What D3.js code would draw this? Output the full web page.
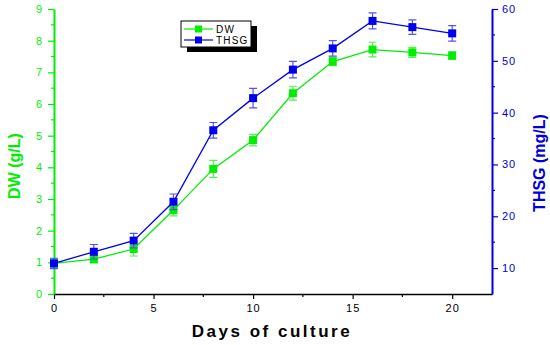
<!DOCTYPE html>
<html>
<head>
<meta charset="UTF-8">
<style>
  body { margin: 0; background: #fff; }
  text { font-family: "Liberation Sans", Arial, sans-serif; }
</style>
</head>
<body>
<script src="https://d3js.org/d3.v7.min.js"></script>
<script>
const days = [0, 2, 4, 6, 8, 10, 12, 14, 16, 18, 20];
const dw = [0.97, 1.1, 1.42, 2.65, 3.95, 4.86, 6.34, 7.34, 7.72, 7.63, 7.53];
const dwErr = [0.15, 0.12, 0.22, 0.18, 0.27, 0.18, 0.22, 0.13, 0.23, 0.16, 0.12];
const thsg = [10.9, 13.15, 15.3, 22.8, 36.6, 42.8, 48.3, 52.4, 57.7, 56.5, 55.3];
const thsgErr = [1.0, 1.4, 1.4, 1.5, 1.5, 1.9, 1.6, 1.5, 1.55, 1.4, 1.5];
const xTicks = [0, 5, 10, 15, 20];
const dwTicks = [0, 1, 2, 3, 4, 5, 6, 7, 8, 9];
const thsgTicks = [10, 20, 30, 40, 50, 60];

const W = 550, H = 345;
const m = { left: 54, right: 58, top: 9, bottom: 51 };
const green = "#00ee00", blue = "#0000dd";

const svg = d3.select("body").append("svg").attr("width", W).attr("height", H);

const x = d3.scaleLinear().domain([0, 22]).range([m.left, W - m.right]);
const yL = d3.scaleLinear().domain([0, 9]).range([H - m.bottom, m.top]);
const yR = d3.scaleLinear().domain([5, 60]).range([H - m.bottom, m.top]);

// minor ticks
const gMinor = svg.append("g");
d3.range(2.5, 22, 5).forEach(v => gMinor.append("line")
  .attr("x1", x(v)).attr("x2", x(v)).attr("y1", yL(0)).attr("y2", yL(0) + 3)
  .attr("stroke", "#000").attr("stroke-width", 1.2));
d3.range(0.5, 9, 1).forEach(v => gMinor.append("line")
  .attr("x1", m.left - 3).attr("x2", m.left).attr("y1", yL(v)).attr("y2", yL(v))
  .attr("stroke", green).attr("stroke-width", 1.2));
d3.range(15, 60, 10).forEach(v => gMinor.append("line")
  .attr("x1", W - m.right).attr("x2", W - m.right + 3).attr("y1", yR(v)).attr("y2", yR(v))
  .attr("stroke", blue).attr("stroke-width", 1.2));

// axes
const xAxis = svg.append("g").attr("transform", `translate(0,${yL(0)})`)
  .call(d3.axisBottom(x).tickValues(xTicks).tickSize(5).tickPadding(5).tickSizeOuter(0));
xAxis.select(".domain").attr("stroke", "#000").attr("stroke-width", 1.5);
xAxis.selectAll(".tick line").attr("stroke", "#000").attr("stroke-width", 1.2);
xAxis.selectAll("text").attr("font-size", 11).attr("fill", "#000").attr("letter-spacing", 1);

const lAxis = svg.append("g").attr("transform", `translate(${m.left},0)`)
  .call(d3.axisLeft(yL).tickValues(dwTicks).tickSize(6).tickPadding(6).tickSizeOuter(0));
lAxis.select(".domain").attr("stroke", green).attr("stroke-width", 2);
lAxis.selectAll(".tick line").attr("stroke", green).attr("stroke-width", 1.2);
lAxis.selectAll("text").attr("font-size", 11).attr("fill", green);

const rAxis = svg.append("g").attr("transform", `translate(${W - m.right},0)`)
  .call(d3.axisRight(yR).tickValues(thsgTicks).tickSize(6).tickPadding(4).tickSizeOuter(0));
rAxis.select(".domain").attr("stroke", blue).attr("stroke-width", 2);
rAxis.selectAll(".tick line").attr("stroke", blue).attr("stroke-width", 1.2);
rAxis.selectAll("text").attr("font-size", 11).attr("fill", blue).attr("letter-spacing", 1);

// axis titles
svg.append("text").attr("x", 272).attr("y", 337).attr("text-anchor", "middle")
  .attr("font-size", 17).attr("font-weight", "bold").attr("letter-spacing", 2.5)
  .text("Days of culture");
svg.append("text").attr("transform", "translate(20,166) rotate(-90)").attr("text-anchor", "middle")
  .attr("font-size", 16).attr("font-weight", "bold").attr("fill", green)
  .text("DW (g/L)");
svg.append("text").attr("transform", "translate(545,163) rotate(-90)").attr("text-anchor", "middle")
  .attr("font-size", 16).attr("font-weight", "bold").attr("fill", blue)
  .text("THSG (mg/L)");

// series
function drawSeries(vals, errs, y, color, errColor) {
  const g = svg.append("g");
  const pts = days.map((d, i) => ({ d, v: vals[i], e: errs[i] }));
  g.selectAll(".err").data(pts).enter().append("path")
    .attr("d", p => {
      const cx = x(p.d), t = y(p.v + p.e), b = y(p.v - p.e);
      return `M${cx - 4},${t}H${cx + 4}M${cx},${t}V${b}M${cx - 4},${b}H${cx + 4}`;
    })
    .attr("fill", "none").attr("stroke", errColor).attr("stroke-width", 1.2);
  g.append("path").datum(pts)
    .attr("d", d3.line().x(p => x(p.d)).y(p => y(p.v)))
    .attr("fill", "none").attr("stroke", color).attr("stroke-width", 1.3);
  g.selectAll("rect").data(pts).enter().append("rect")
    .attr("x", p => x(p.d) - 4).attr("y", p => y(p.v) - 4)
    .attr("width", 8).attr("height", 8).attr("fill", color);
}
drawSeries(dw, dwErr, yL, "#00ee00", "#55ee55");
drawSeries(thsg, thsgErr, yR, "#0000ee", "#5555dd");

// legend
const lg = svg.append("g").attr("transform", "translate(181,21)");
lg.append("rect").attr("x", 6).attr("y", 5).attr("width", 70).attr("height", 26).attr("fill", "#000");
lg.append("rect").attr("x", 0).attr("y", 0).attr("width", 70).attr("height", 26)
  .attr("fill", "#fff").attr("stroke", "#000").attr("stroke-width", 1);
[["DW", "#00ee00"], ["THSG", "#0000ee"]].forEach(([name, c], i) => {
  const yy = 8 + i * 11;
  lg.append("line").attr("x1", 3).attr("x2", 32).attr("y1", yy).attr("y2", yy).attr("stroke", c).attr("stroke-width", 1.2);
  lg.append("rect").attr("x", 14).attr("y", yy - 3.5).attr("width", 7).attr("height", 7).attr("fill", c);
  lg.append("text").attr("x", 35).attr("y", yy + 3.5).attr("font-size", 10).attr("letter-spacing", 1.2).text(name);
});
</script>
</body>
</html>
